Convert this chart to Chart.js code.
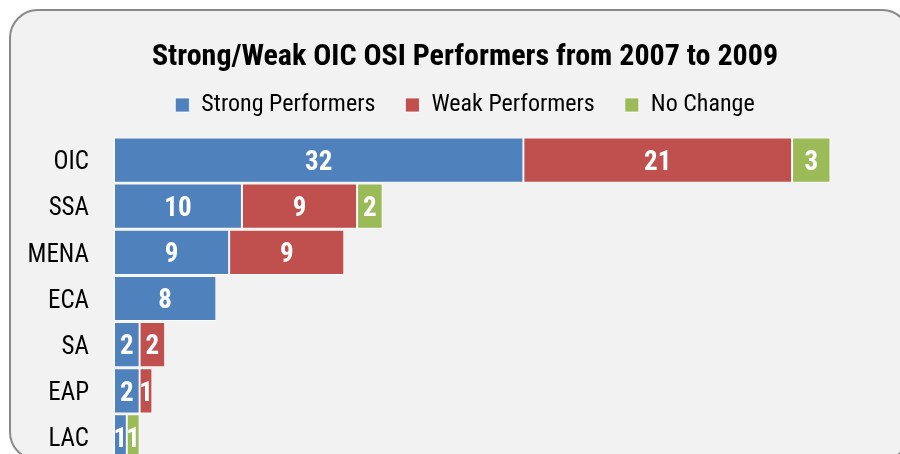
<!DOCTYPE html>
<html>
<head>
<meta charset="utf-8">
<script src="https://cdn.jsdelivr.net/npm/chart.js@4.4.1/dist/chart.umd.min.js"></script>
<style>
html,body{margin:0;padding:0;background:#fff;overflow:hidden;width:900px;height:454px;}
canvas{display:block;}
</style>
</head>
<body>
<canvas id="c" width="920" height="470" style="width:920px;height:470px"></canvas>
<script>
const categories = ['OIC', 'SSA', 'MENA', 'ECA', 'SA', 'EAP', 'LAC'];
const strongPerformers = [32, 10, 9, 8, 2, 2, 1];
const weakPerformers = [21, 9, 9, null, 2, 1, null];
const noChange = [3, 2, null, null, null, null, 1];
const seriesNames = ['Strong Performers', 'Weak Performers', 'No Change'];
const xMax = 63;

const FONT = "'Roboto Condensed', 'Open Sans', sans-serif";

const framePlugin = {
  id: 'frame',
  beforeDraw(chart) {
    const ctx = chart.ctx;
    const x = 10, y = 10, w = 900, h = 450, r = 28;
    ctx.save();
    ctx.fillStyle = '#ffffff';
    ctx.fillRect(0, 0, chart.width, chart.height);
    ctx.beginPath();
    ctx.moveTo(x + r, y);
    ctx.lineTo(x + w - r, y);
    ctx.arcTo(x + w, y, x + w, y + r, r);
    ctx.lineTo(x + w, y + h - r);
    ctx.arcTo(x + w, y + h, x + w - r, y + h, r);
    ctx.lineTo(x + r, y + h);
    ctx.arcTo(x, y + h, x, y + h - r, r);
    ctx.lineTo(x, y + r);
    ctx.arcTo(x, y, x + r, y, r);
    ctx.closePath();
    ctx.fillStyle = '#f2f2f2';
    ctx.fill();
    ctx.lineWidth = 2;
    ctx.strokeStyle = '#8a8a8a';
    ctx.stroke();
    ctx.restore();
  }
};

const valueLabels = {
  id: 'valueLabels',
  afterDatasetsDraw(chart) {
    const ctx = chart.ctx;
    ctx.save();
    ctx.font = 'bold 27px ' + FONT;
    ctx.fillStyle = '#ffffff';
    ctx.textAlign = 'center';
    ctx.textBaseline = 'middle';
    chart.data.datasets.forEach((ds, di) => {
      const meta = chart.getDatasetMeta(di);
      meta.data.forEach((bar, i) => {
        const v = ds.data[i];
        if (v === null || v === undefined) return;
        const cx = (bar.x + bar.base) / 2;
        ctx.fillText(String(v), cx, bar.y + 3);
      });
    });
    ctx.restore();
  }
};

new Chart(document.getElementById('c'), {
  type: 'bar',
  data: {
    labels: categories,
    datasets: [
      { label: seriesNames[0], data: strongPerformers, backgroundColor: '#4f81bd' },
      { label: seriesNames[1], data: weakPerformers, backgroundColor: '#c0504d' },
      { label: seriesNames[2], data: noChange, backgroundColor: '#9bbb59' }
    ]
  },
  options: {
    indexAxis: 'y',
    responsive: false,
    animation: false,
    devicePixelRatio: 1,
    layout: { padding: { left: 10, right: 0, top: 0, bottom: 10 } },
    datasets: {
      bar: {
        borderColor: 'rgba(255,255,255,0.75)',
        borderWidth: 1,
        borderSkipped: false,
        barPercentage: 0.98,
        categoryPercentage: 1
      }
    },
    scales: {
      x: {
        stacked: true,
        position: 'top',
        min: 0,
        max: xMax,
        grid: { display: false, drawTicks: false },
        border: { display: false },
        ticks: { display: false },
        afterFit(s) { s.height = 10; s.paddingLeft = 0; s.paddingRight = 0; }
      },
      y: {
        stacked: true,
        grid: { display: false, drawTicks: false },
        border: { display: false },
        ticks: {
          color: '#000000',
          padding: 25,
          labelOffset: 3,
          font: { family: FONT, size: 25 }
        },
        afterFit(s) { s.width = 104; s.paddingTop = 0; s.paddingBottom = 0; }
      }
    },
    plugins: {
      title: {
        display: true,
        text: 'Strong/Weak OIC OSI Performers from 2007 to 2009',
        color: '#000000',
        font: { family: FONT, size: 30, weight: 'bold', lineHeight: 1.2 },
        padding: { top: 39, bottom: -12 }
      },
      legend: {
        display: true,
        position: 'top',
        labels: {
          color: '#000000',
          font: { family: FONT, size: 24 },
          boxWidth: 14,
          boxHeight: 14,
          padding: 30
        }
      },
      tooltip: { enabled: false }
    }
  },
  plugins: [framePlugin, valueLabels]
});
</script>
</body>
</html>
